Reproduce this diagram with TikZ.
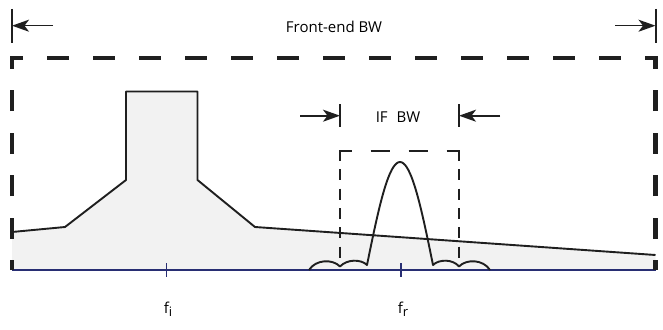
\documentclass[tikz,border=0pt]{standalone}
\usepackage{fontspec}
\setmainfont{Open Sans}
\usetikzlibrary{arrows.meta}
\definecolor{axisblue}{RGB}{40,46,115}
\definecolor{bandfill}{RGB}{242,242,242}
\newcommand{\fsub}[1]{f\raisebox{-3.8pt}{\fontsize{13}{13}\selectfont #1}}

\begin{document}
\begin{tikzpicture}[x=1pt, y=-1pt,
    declare function={
        xl = 12; xr = 655.5; y0 = 270;
        fc = 400; hw = 33; pk = 103;
        lobe(\x) = 265 - pk*cos((\x-fc)*90/hw);
    },
    envelope/.style={line width=1.9pt, draw=black!88, line join=round},
    bigdash/.style={line width=4.2pt, draw=black!88},
    ifdash/.style={line width=1.8pt, draw=black!88},
    dimarrow/.style={line width=1.6pt, draw=black!88, -{Stealth[length=17pt, width=12pt, inset=4.5pt]}},
    bwbar/.style={line width=2pt, draw=black!88},
    lbl/.style={font=\fontsize{15}{17}\selectfont, inner sep=0pt, anchor=base}]
    \useasboundingbox (0,0) rectangle (663,329);

    % 填充区域（包络线以下）
    \fill[bandfill] (xl,232) -- (65,227) -- (126,180) -- (126,91.5) --
        (197.5,91.5) -- (197.5,180) -- (255,227) -- (xr,255) --
        (xr,y0) -- (xl,y0) -- cycle;

    % 干扰信号包络
    \draw[envelope] (xl,232) -- (65,227) -- (126,180) -- (126,91.5) --
        (197.5,91.5) -- (197.5,180) -- (255,227) -- (xr,255);

    % 频率轴与刻度
    \draw[line width=1.7pt, axisblue] (xl,y0) -- (xr,y0);
    \draw[line width=1.5pt, axisblue] (166.7,263) -- (166.7,277);
    \draw[line width=1.5pt, axisblue] (401,263) -- (401,277);
    \node[lbl] (fi) at (168,313) {\fsub{i}};
    \node[lbl] (fr) at (403,313) {\fsub{r}};

    % 中频信号：主瓣 + 旁瓣
    \draw[envelope] (309,270) .. controls (316,259) and (333,259) .. (340,266.5)
        .. controls (347,259) and (361,259) .. (367,265)
        -- plot[domain=367:433, samples=41, smooth] (\x, {lobe(\x)})
        .. controls (439,259) and (453,259) .. (459,266.5)
        .. controls (466,259) and (483,259) .. (490,270);

    % 前端带宽虚线框
    \draw[bigdash, dash pattern=on 22pt off 24pt, dash phase=9pt] (10,58) -- (657.5,58);
    \draw[bigdash, dash pattern=on 21pt off 21.5pt, dash phase=11pt] (xl,y0) -- (xl,56);
    \draw[bigdash, dash pattern=on 21pt off 21.5pt, dash phase=11pt] (xr,y0) -- (xr,56);

    % 中频带宽虚线框
    \draw[ifdash, dash pattern=on 19pt off 19pt, dash phase=6.5pt] (339.1,151) -- (459.9,151);
    \draw[ifdash, dash pattern=on 11pt off 8.3pt] (340,150.1) -- (340,266.5);
    \draw[ifdash, dash pattern=on 11pt off 8.3pt] (459,150.1) -- (459,266.5);

    % 前端带宽标注
    \node[lbl] (febw) at (334,32.7) {Front-end BW};
    \draw[bwbar] (xl,9) -- (xl,43);
    \draw[bwbar] (xr,9) -- (xr,43);
    \coordinate (feL) at (xl,25.7);
    \coordinate (feR) at (xr,25.7);
    \coordinate (feLtail) at (53,25.7);
    \coordinate (feRtail) at (615,25.7);
    \draw[dimarrow] (feLtail) -- (feL);
    \draw[dimarrow] (feRtail) -- (feR);

    % 中频带宽标注
    \node[lbl] (ifbw) at (398,122.7) {IF\hspace{9pt}BW};
    \draw[bwbar] (340,104.3) -- (340,126.7);
    \draw[bwbar] (459,104.3) -- (459,126.7);
    \coordinate (ifL) at (340,115.7);
    \coordinate (ifR) at (459,115.7);
    \coordinate (ifLtail) at (300,115.7);
    \coordinate (ifRtail) at (500,115.7);
    \draw[dimarrow] (ifLtail) -- (ifL);
    \draw[dimarrow] (ifRtail) -- (ifR);
\end{tikzpicture}
\end{document}
